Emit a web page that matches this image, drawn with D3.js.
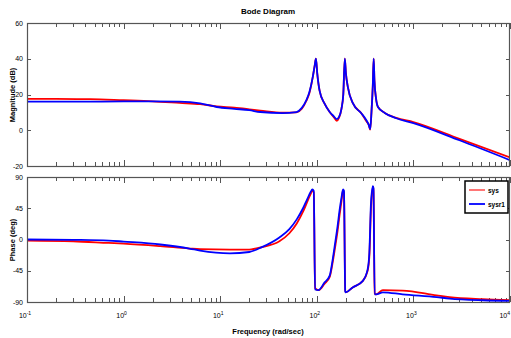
<!DOCTYPE html>
<html>
<head>
<meta charset="utf-8">
<script src="https://cdn.jsdelivr.net/npm/d3@7"></script>
<style>
  body { margin: 0; background: #fff; }
  svg { display: block; }
  text { font-family: "Liberation Sans Narrow", "Liberation Sans", Arial, sans-serif; fill: #000; }
</style>
</head>
<body>
<svg id="chart" width="511" height="338"></svg>
<script>
// magnitude (dB)
const magFreq = [0.1, 0.2, 0.45, 1, 2, 3.8, 6.2, 9.2, 14, 20, 26, 44, 61.5, 70, 78, 84, 91, 95, 98, 101, 107, 120, 136, 150, 161, 170, 180, 188, 195, 200, 210, 237, 289, 326, 345, 357, 368, 380, 388, 395, 410, 430, 505, 665, 1000, 3000, 10000];
const magSys = [17.5, 17.5, 17.4, 16.8, 16.2, 15.3, 14.6, 13.4, 12.6, 11.7, 11.0, 9.8, 10.0, 12, 16.5, 21, 30, 36, 40, 32, 22, 15, 10.2, 7.3, 5.3, 7, 12, 20, 40, 32, 24, 15, 9.5, 5, 3, 0.3, 10, 25, 40, 28, 18, 13, 9.7, 6.9, 4.6, -4.8, -15.2];
const magSysr1 = [16.0, 16.0, 16.0, 16.1, 16.2, 16.0, 15.0, 13.0, 12.0, 11.2, 10.2, 9.6, 10.2, 12.5, 16.8, 21.5, 30, 36, 40, 32, 22, 15, 10.2, 7.8, 6.2, 7.5, 12, 20, 40, 32, 24, 15, 9.5, 5.6, 3, 0.6, 10, 25, 40, 28, 18, 13, 9.7, 6.7, 4.0, -5.6, -16.7];

// phase (deg)
const phaseFreq = [0.1, 0.3, 0.7, 1, 2.4, 4.8, 6.2, 12.6, 20, 27, 41, 52, 62, 72, 79, 86, 90, 93, 96, 104, 120, 136, 146, 156, 164, 172, 180, 187, 191, 197, 200, 235, 298, 336, 350, 364, 381, 386, 397, 411, 483, 773, 1740, 2365, 5200, 10000];
const phaseSys = [-1.5, -2.5, -5, -6, -9.6, -13, -14, -14.5, -14.5, -11, -2.5, 9, 23, 40, 53, 65, 70, 68, -70, -73, -64, -54, -33, -8, 12, 35, 55, 71, 68, -74, -76, -69, -60, -45, -24, 45, 76, 72, -78, -79, -73, -73.5, -80.5, -83, -86, -87.5];
const phaseSysr1 = [0, -0.5, -1.5, -3, -7.2, -13, -16, -20, -18, -11, 3, 15, 29, 45, 57, 68, 72, 70, -72, -73, -62, -52, -29, -2, 19, 42, 60, 72, 70, -75, -76, -69, -60, -43, -19, 53, 77, 74, -79, -79, -76, -79, -83, -85, -87.5, -88.5];

const magTicks = [-20, 0, 20, 40, 60];
const phaseTicks = [-90, -45, 0, 45, 90];
const decades = [-1, 0, 1, 2, 3, 4];
const seriesNames = ["sys", "sysr1"];
const seriesColors = ["#ff0000", "#0000ff"];

const svg = d3.select("#chart");
const left = 27, right = 510;

const x = d3.scaleLog().domain([0.1, 10000]).range([left, right]);
const yMag = d3.scaleLinear().domain([-20, 60]).range([166, 23]);
const yPhase = d3.scaleLinear().domain([-90, 90]).range([302, 177]);

function drawPanel(y, yTicks, freq, series, clipId) {
  const top = y.range()[1], bottom = y.range()[0];
  const g = svg.append("g");

  g.append("clipPath").attr("id", clipId)
    .append("rect").attr("x", left).attr("y", top)
    .attr("width", right - left).attr("height", bottom - top);

  // x ticks (top and bottom, inward)
  x.ticks().forEach(function (t) {
    const major = Math.abs(Math.log10(t) - Math.round(Math.log10(t))) < 1e-9;
    const len = major ? 6 : 4;
    const px = Math.round(x(t)) + 0.5;
    g.append("line").attr("x1", px).attr("x2", px).attr("y1", bottom).attr("y2", bottom - len)
      .attr("stroke", "#555").attr("stroke-width", 1);
    g.append("line").attr("x1", px).attr("x2", px).attr("y1", top).attr("y2", top + len)
      .attr("stroke", "#555").attr("stroke-width", 1);
  });

  // y ticks left and right
  yTicks.forEach(function (t) {
    const py = Math.round(y(t)) + 0.5;
    g.append("line").attr("x1", left).attr("x2", left + 4).attr("y1", py).attr("y2", py)
      .attr("stroke", "#555");
    g.append("line").attr("x1", right - 4).attr("x2", right).attr("y1", py).attr("y2", py)
      .attr("stroke", "#555");
    g.append("text").attr("x", left - 4).attr("y", y(t) + 2.5)
      .attr("text-anchor", "end").attr("font-size", 7).text(t);
  });

  // curves
  const line = d3.line()
    .curve(d3.curveMonotoneX)
    .x(function (d) { return x(d[0]); })
    .y(function (d) { return y(d[1]); });
  series.forEach(function (vals, i) {
    g.append("path")
      .datum(freq.map(function (f, k) { return [f, vals[k]]; }))
      .attr("clip-path", "url(#" + clipId + ")")
      .attr("fill", "none")
      .attr("stroke", seriesColors[i])
      .attr("stroke-width", 1.8)
      .attr("stroke-linejoin", "round")
      .attr("d", line);
  });

  // frame
  g.append("rect").attr("x", left + 0.5).attr("y", top + 0.5)
    .attr("width", right - left - 1).attr("height", bottom - top)
    .attr("fill", "none").attr("stroke", "#555").attr("stroke-width", 1.2);
}

drawPanel(yMag, magTicks, magFreq, [magSys, magSysr1], "clipMag");
drawPanel(yPhase, phaseTicks, phaseFreq, [phaseSys, phaseSysr1], "clipPhase");

// x tick labels 10^k (last one kept inside the window)
decades.forEach(function (k, i) {
  const last = i === decades.length - 1;
  const t = svg.append("text")
    .attr("x", last ? 510 : x(Math.pow(10, k)) - 2).attr("y", 318)
    .attr("text-anchor", last ? "end" : "middle").attr("font-size", 7);
  t.append("tspan").text("10");
  t.append("tspan").attr("dy", -3).attr("font-size", 5).text(k);
});

// titles
svg.append("text").attr("x", 268).attr("y", 14).attr("text-anchor", "middle")
  .attr("font-size", 8).attr("font-weight", "bold").text("Bode Diagram");
svg.append("text").attr("x", 268).attr("y", 334).attr("text-anchor", "middle")
  .attr("font-size", 7.5).attr("font-weight", "bold").text("Frequency  (rad/sec)");
svg.append("text").attr("transform", "translate(15,95) rotate(-90)").attr("text-anchor", "middle")
  .attr("font-size", 7.5).attr("font-weight", "bold").text("Magnitude  (dB)");
svg.append("text").attr("transform", "translate(15,240) rotate(-90)").attr("text-anchor", "middle")
  .attr("font-size", 7.5).attr("font-weight", "bold").text("Phase  (deg)");

// legend
const lg = svg.append("g").attr("transform", "translate(465,181)");
lg.append("rect").attr("width", 43).attr("height", 32)
  .attr("fill", "#fff").attr("stroke", "#000").attr("stroke-width", 1.5);
seriesNames.forEach(function (name, i) {
  const ly = 9 + i * 14;
  lg.append("line").attr("x1", 4).attr("x2", 20).attr("y1", ly).attr("y2", ly)
    .attr("stroke", seriesColors[i]).attr("stroke-width", 1.8)
    .attr("stroke-opacity", i === 0 ? 0.6 : 1);
  lg.append("text").attr("x", 23).attr("y", ly + 2.5).attr("font-size", 6.5)
    .attr("font-weight", "bold").text(name);
});
</script>
</body>
</html>
